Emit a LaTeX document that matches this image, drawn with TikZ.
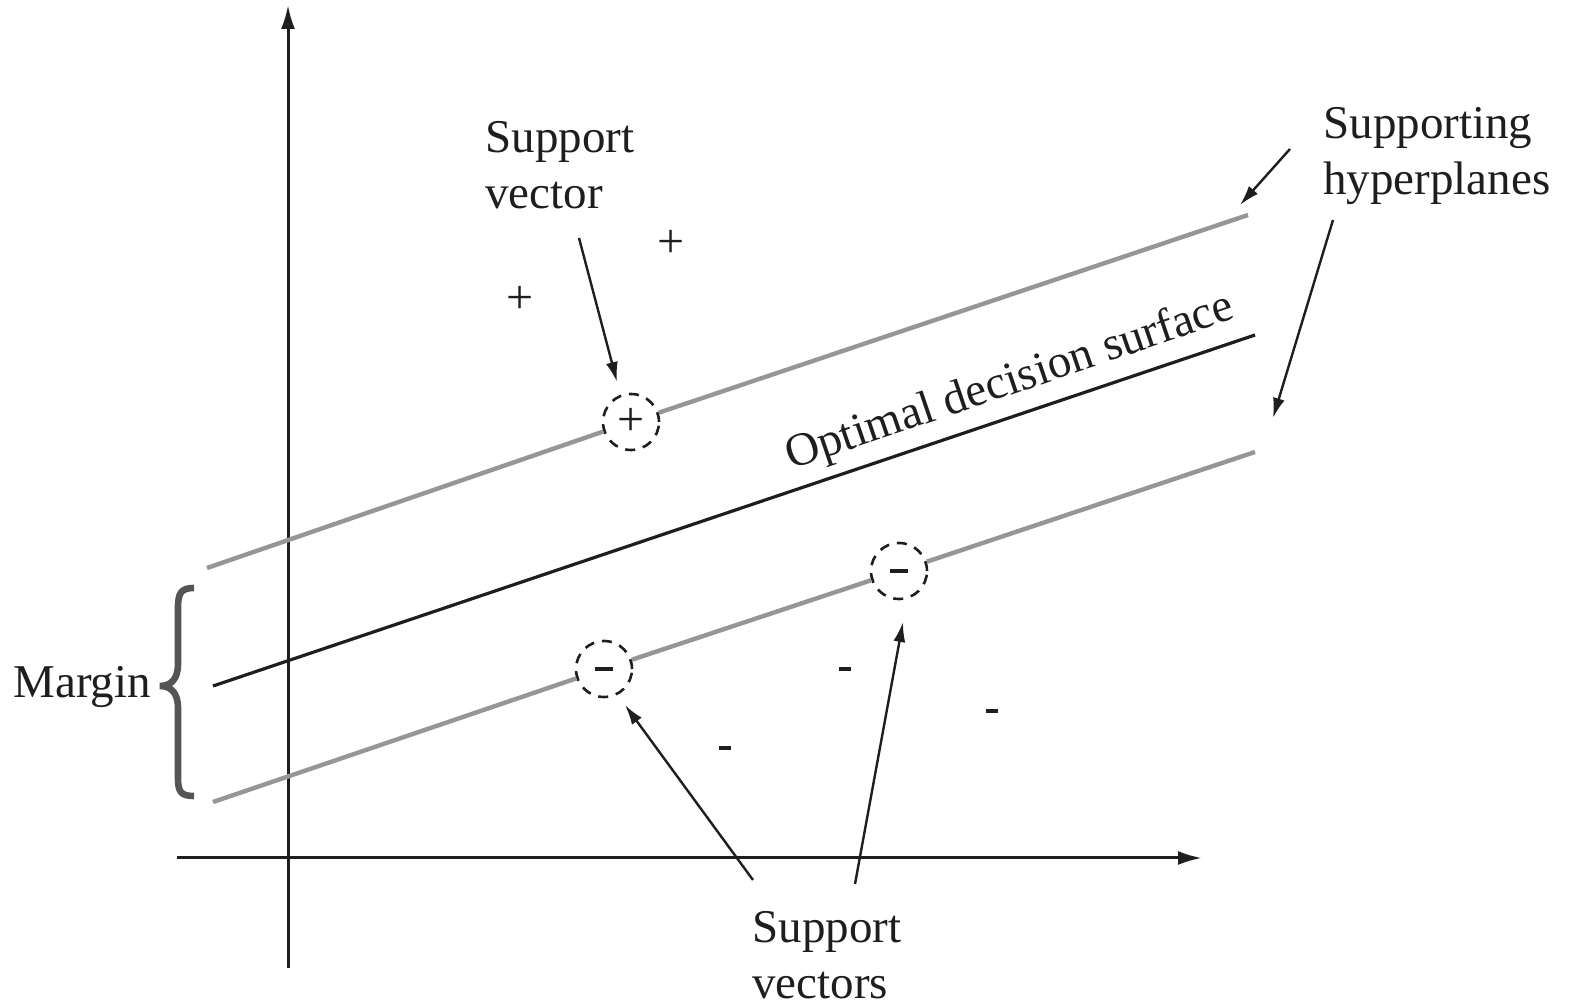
\documentclass[tikz,border=0pt]{standalone}
\usepackage{fontspec}
\setmainfont{Liberation Serif}
\usetikzlibrary{arrows.meta}
\definecolor{hypgray}{RGB}{150,150,150}
\definecolor{bracegray}{RGB}{85,85,85}
\definecolor{ink}{RGB}{30,30,30}
\tikzset{
  axisline/.style={draw=ink, line width=1.5pt, -{Latex[length=12pt,width=7pt]}},
  hyper/.style={draw=hypgray, line width=2.2pt},
  decision/.style={draw=ink, line width=1.6pt},
  pointer/.style={draw=ink, line width=1.2pt, -{Latex[length=10pt,width=6pt]}},
  svcircle/.style={circle, draw=ink, line width=1.3pt, dash pattern=on 5pt off 4pt, minimum size=28pt, inner sep=0pt},
  lbl/.style={font=\fontsize{23.5}{28}\selectfont, text=ink, inner sep=0pt, align=left},
  sign/.style={font=\fontsize{24}{28}\selectfont, text=ink, inner sep=0pt},
  minus/.style={draw=ink, line width=1.6pt},
}
\begin{document}
\begin{tikzpicture}[x=0.5pt, y=-0.5pt]
\useasboundingbox (0,0) rectangle (1571,1005);
% axes
\coordinate (yb) at (288,968);
\coordinate (yt) at (288,5);
\coordinate (xl) at (177,858);
\coordinate (xr) at (1202,858);
\draw[axisline] (yb) -- (yt);
\draw[axisline] (xl) -- (xr);

% support vector circles
\node[svcircle] (p1) at (631,422) {};
\node[svcircle] (m1) at (604,669) {};
\node[svcircle] (m2) at (899,571) {};
\node[sign] at (p1) {+};
\draw[minus] ([xshift=-4.5pt]m1.center) -- ([xshift=4.5pt]m1.center);
\draw[minus] ([xshift=-4.5pt]m2.center) -- ([xshift=4.5pt]m2.center);

% hyperplanes
\coordinate (ua) at (207,568);
\coordinate (ub) at (1248,215);
\coordinate (ca) at (213,686);
\coordinate (cb) at (1255,335);
\coordinate (la) at (213,802);
\coordinate (lb) at (1255,452);
\draw[hyper] (ua) -- (p1);
\draw[hyper] (p1) -- (ub);
\draw[decision] (ca) -- (cb);
\draw[hyper] (la) -- (m1);
\draw[hyper] (m1) -- (m2);
\draw[hyper] (m2) -- (lb);

% free points
\node[sign] (pa) at (520,300) {+};
\node[sign] (pb) at (671,244) {+};
\draw[minus] (839,669) -- (851,669) coordinate (na);
\draw[minus] (986,711) -- (998,711) coordinate (nb);
\draw[minus] (719,748) -- (731,748) coordinate (nc);

% labels
\node[lbl, anchor=north west] (sv) at (485,121) {Support\\vector};
\node[lbl, anchor=north west] (sh) at (1323,107) {Supporting\\hyperplanes};
\node[lbl, anchor=north west] (svs) at (752,911) {Support\\vectors};
\node[lbl, anchor=base west] (mg) at (13,698) {Margin};
\node[lbl, anchor=base, rotate=18.8] (ods) at (1014,394) {Optimal decision surface};

% pointers
\coordinate (s1) at (579,238);
\coordinate (t1) at (617,382);
\draw[pointer] (s1) -- (t1);
\coordinate (s2) at (1290,149);
\coordinate (t2) at (1240,205);
\draw[pointer] (s2) -- (t2);
\coordinate (s3) at (1333,220);
\coordinate (t3) at (1273,418);
\draw[pointer] (s3) -- (t3);
\coordinate (s4) at (753,880);
\coordinate (t4) at (625,705);
\draw[pointer] (s4) -- (t4);
\coordinate (s5) at (855,884);
\coordinate (t5) at (903,622);
\draw[pointer] (s5) -- (t5);

% brace
\draw[bracegray, line width=3.3pt, line cap=butt]
  (194,588) .. controls (181,588) and (178,593) .. (178,608)
  -- (178,664) .. controls (178,679) and (171,686) .. (160,686)
  .. controls (171,686) and (178,693) .. (178,708)
  -- (178,778) .. controls (178,792) and (181,796) .. (194,796);
\end{tikzpicture}
\end{document}
